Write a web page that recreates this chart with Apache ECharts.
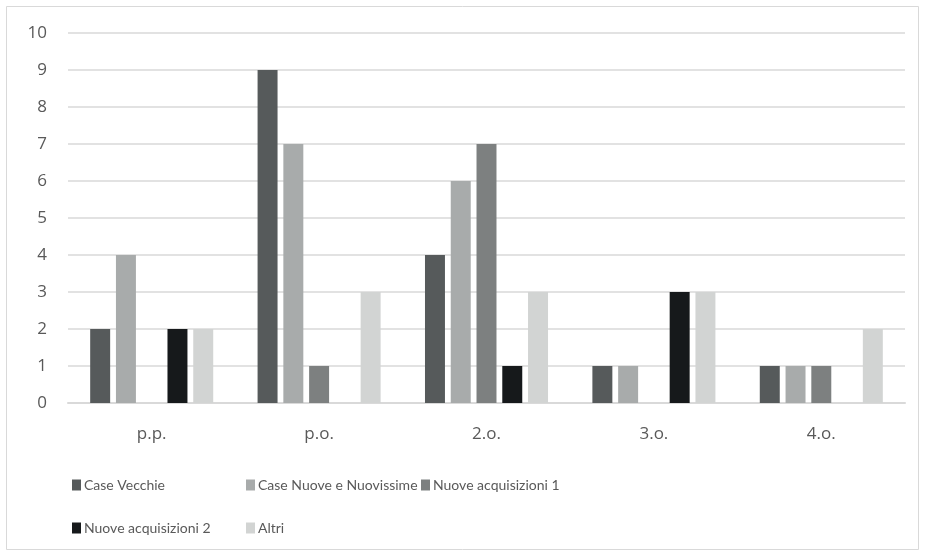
<!DOCTYPE html>
<html>
<head>
<meta charset="utf-8">
<script src="https://cdn.jsdelivr.net/npm/echarts@6/dist/echarts.min.js"></script>
<style>
html,body{margin:0;padding:0;background:#fff;}
#chart{width:926px;height:558px;}
</style>
</head>
<body>
<div id="chart"></div>
<script>
// Categories along the x axis
const categories = ['p.p.', 'p.o.', '2.o.', '3.o.', '4.o.'];
// Series names
const seriesNames = ['Case Vecchie', 'Case Nuove e Nuovissime', 'Nuove acquisizioni 1', 'Nuove acquisizioni 2', 'Altri'];
// Values per series (null = no bar)
const caseVecchie = [2, 9, 4, 1, 1];
const caseNuove = [4, 7, 6, 1, 1];
const nuoveAcq1 = [null, 1, 7, null, 1];
const nuoveAcq2 = [2, null, 1, 3, null];
const altri = [2, 3, 3, 3, 2];
// Y axis ticks
const yTicks = [0, 1, 2, 3, 4, 5, 6, 7, 8, 9, 10];

const seriesValues = [caseVecchie, caseNuove, nuoveAcq1, nuoveAcq2, altri];
const colors = ['#565a5b', '#a8abab', '#7d8080', '#16191b', '#d2d4d3'];

// Legend laid out as a two-row grid
const legendPos = [
  {left: 72, top: 478},
  {left: 246, top: 478},
  {left: 421, top: 478},
  {left: 72, top: 521},
  {left: 246, top: 521}
];

const chart = echarts.init(document.getElementById('chart'));
chart.setOption({
  animation: false,
  backgroundColor: '#fff',
  textStyle: {fontFamily: 'Open Sans'},
  graphic: [{
    type: 'rect',
    shape: {x: 6.5, y: 6.5, width: 912, height: 543},
    style: {fill: 'none', stroke: '#d9d9d9', lineWidth: 1}
  }],
  legend: seriesNames.map((n, i) => ({
    data: [n],
    left: legendPos[i].left,
    top: legendPos[i].top,
    icon: 'rect',
    itemWidth: 9,
    itemHeight: 11,
    itemGap: 0,
    padding: 0,
    textStyle: {color: '#595959', fontSize: 14, fontFamily: 'Lato', padding: [0, 0, 0, -2]}
  })),
  grid: {left: 68, right: 21, top: 33, bottom: 155},
  xAxis: {
    type: 'category',
    data: categories,
    axisLine: {lineStyle: {color: '#d9d9d9', width: 2}},
    axisTick: {show: false},
    axisLabel: {color: '#595959', fontSize: 17, margin: 23}
  },
  yAxis: {
    type: 'value',
    min: yTicks[0],
    max: yTicks[yTicks.length - 1],
    interval: 1,
    axisLine: {show: false},
    axisTick: {show: false},
    axisLabel: {color: '#595959', fontSize: 17, margin: 21},
    splitLine: {lineStyle: {color: '#d9d9d9', width: 1.5}}
  },
  series: seriesNames.map((n, i) => ({
    name: n,
    type: 'bar',
    data: seriesValues[i],
    itemStyle: {color: colors[i]},
    barGap: '29%',
    barCategoryGap: '26.5%'
  }))
});
</script>
</body>
</html>
